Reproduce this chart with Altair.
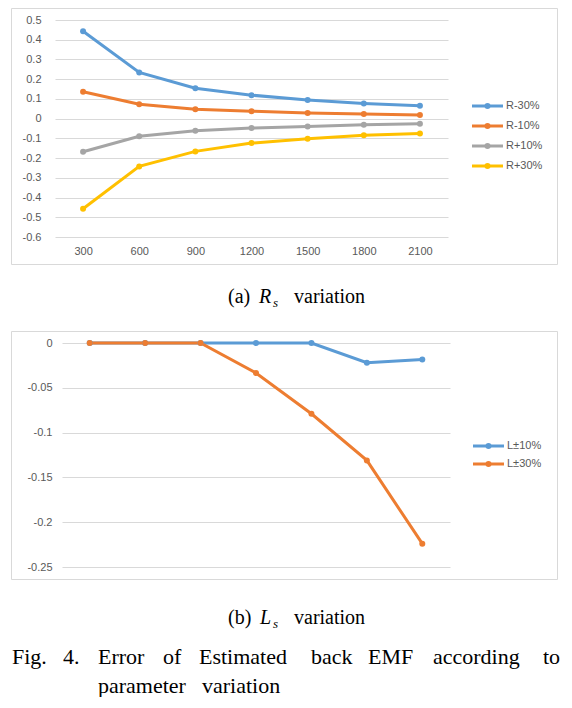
import altair as alt
import pandas as pd

# ---------------- data ----------------
speeds = ["300", "600", "900", "1200", "1500", "1800", "2100"]

r_series = ["R-30%", "R-10%", "R+10%", "R+30%"]
r_minus30 = [0.443, 0.234, 0.154, 0.119, 0.095, 0.077, 0.065]
r_minus10 = [0.136, 0.073, 0.047, 0.038, 0.028, 0.023, 0.019]
r_plus10 = [-0.168, -0.089, -0.062, -0.048, -0.040, -0.031, -0.026]
r_plus30 = [-0.457, -0.242, -0.166, -0.124, -0.102, -0.084, -0.075]

l_series = ["L±10%", "L±30%"]
l_pm10 = [0.0, 0.0, 0.0, 0.0, 0.0, -0.022, -0.0185]
l_pm30 = [0.0, 0.0, 0.0, -0.0335, -0.079, -0.131, -0.224]

r_ticks = [0.5, 0.4, 0.3, 0.2, 0.1, 0.0, -0.1, -0.2, -0.3, -0.4, -0.5, -0.6]
l_ticks = [0.0, -0.05, -0.1, -0.15, -0.2, -0.25]

cap_a = ["(a)", "R", "s", "variation"]
cap_b = ["(b)", "L", "s", "variation"]
fig_line1 = ["Fig.", "4.", "Error", "of", "Estimated", "back", "EMF", "according", "to"]
fig_line2 = ["parameter", "variation"]

# ---------------- styles / layout ----------------
r_colors = ["#5B9BD5", "#ED7D31", "#A5A5A5", "#FFC000"]
l_colors = ["#5B9BD5", "#ED7D31"]
GRID = "#D9D9D9"
TXT = "#595959"
SANS = "Liberation Sans"
SERIF = "Liberation Serif"
LW = 3
PT = 36

fig1_x = [-50, 1, 36, 101, 137, 249, 306, 371, 481]
fig2_x = [36, 140]


def one():
    return pd.DataFrame({"a": [0]})


def txt(t, x, y, size, font=SERIF, style="normal", color="#000000", baseline="alphabetic"):
    return alt.Chart(pd.DataFrame({"t": [t]})).mark_text(
        align="left", baseline=baseline, font=font, fontSize=size,
        fontStyle=style, color=color
    ).encode(text="t:N", x=alt.value(x), y=alt.value(y))


def border(x1, x2, y1, y2):
    return alt.Chart(one()).mark_rect(
        fillOpacity=0, stroke=GRID, strokeWidth=1
    ).encode(x=alt.value(x1), x2=alt.value(x2), y=alt.value(y1), y2=alt.value(y2))


def legend(series, colors, x0, y0, step):
    layers = []
    for i, (s, c) in enumerate(zip(series, colors)):
        yy = y0 + step * i
        layers.append(alt.Chart(one()).mark_rule(color=c, strokeWidth=LW).encode(
            x=alt.value(x0), x2=alt.value(x0 + 31), y=alt.value(yy)))
        layers.append(alt.Chart(one()).mark_circle(color=c, size=PT, opacity=1).encode(
            x=alt.value(x0 + 15.5), y=alt.value(yy)))
        layers.append(txt(s, x0 + 34, yy, 11, font=SANS, color=TXT, baseline="middle"))
    return layers


def caption(words, xs, y, size=20, sub=13):
    return [
        txt(words[0], xs[0], y, size),
        txt(words[1], xs[1], y, size, style="italic"),
        txt(words[2], xs[2], y + 4, sub, style="italic"),
        txt(words[3], xs[3], y, size),
    ]


def panel(df, field, series, colors, ticks, domain, label_expr, show_x, ypad):
    xaxis = alt.Axis(labelAngle=0, grid=False, ticks=False, tickSize=0, domain=False,
                     labelPadding=8) if show_x else None
    x = alt.X("speed:O", sort=speeds, title=None, axis=xaxis)
    y = alt.Y("value:Q", title=None,
              scale=alt.Scale(domain=domain, nice=False, zero=False),
              axis=alt.Axis(values=ticks, labelExpr=label_expr, ticks=False, tickSize=0,
                            domain=False, labelPadding=ypad, gridColor=GRID))
    color = alt.Color(f"{field}:N", scale=alt.Scale(domain=series, range=colors), legend=None)
    line = alt.Chart(df).mark_line(strokeWidth=LW).encode(x=x, y=y, color=color)
    pts = alt.Chart(df).mark_circle(size=PT, opacity=1).encode(x=x, y=y, color=color)
    return [line, pts]


# ---------------- panel (a) ----------------
dfA = pd.DataFrame({
    "speed": speeds * 4,
    "rser": [s for s in r_series for _ in speeds],
    "value": r_minus30 + r_minus10 + r_plus10 + r_plus30,
})
layersA = [border(-43.5, 502.5, -11.5, 244.5)]
layersA += panel(dfA, "rser", r_series, r_colors, r_ticks, [-0.6, 0.5],
                 "toString(round(datum.value*10)/10)", True, 14)
layersA += legend(r_series, r_colors, 417, 86, 20)
layersA += caption(cap_a, [173, 204, 218, 239], 283)
chartA = alt.layer(*layersA).properties(width=393, height=217)

# ---------------- panel (b) ----------------
dfB = pd.DataFrame({
    "speed": speeds * 2,
    "lser": [s for s in l_series for _ in speeds],
    "value": l_pm10 + l_pm30,
})
layersB = [border(-50.5, 495.5, -11.5, 236.5)]
layersB += panel(dfB, "lser", l_series, l_colors, l_ticks, [-0.25, 0.0],
                 "toString(round(datum.value*100)/100)", False, 10)
layersB += legend(l_series, l_colors, 411, 103, 18)
layersB += caption(cap_b, [166, 198, 211, 232], 281)
layersB += [txt(w, xx, 321, 22) for w, xx in zip(fig_line1, fig1_x)]
layersB += [txt(w, xx, 350, 22) for w, xx in zip(fig_line2, fig2_x)]
chartB = alt.layer(*layersB).properties(width=388, height=224)

spacer = alt.Chart(one()).mark_point(opacity=0).encode(
    x=alt.value(0), y=alt.value(0)).properties(width=7, height=224)

rowB = alt.hconcat(spacer, chartB, spacing=0, bounds="flush")

chart = alt.vconcat(chartA, rowB, spacing=106, bounds="flush").resolve_scale(
    x="independent", y="independent", color="independent"
).properties(
    padding={"left": 3, "top": 0, "right": 0, "bottom": 0}
).configure_view(stroke=None).configure_axis(
    labelFont=SANS, labelFontSize=11, labelColor=TXT, gridColor=GRID
)

chart.save("out.html", embed_options={"renderer": "svg", "actions": False})
